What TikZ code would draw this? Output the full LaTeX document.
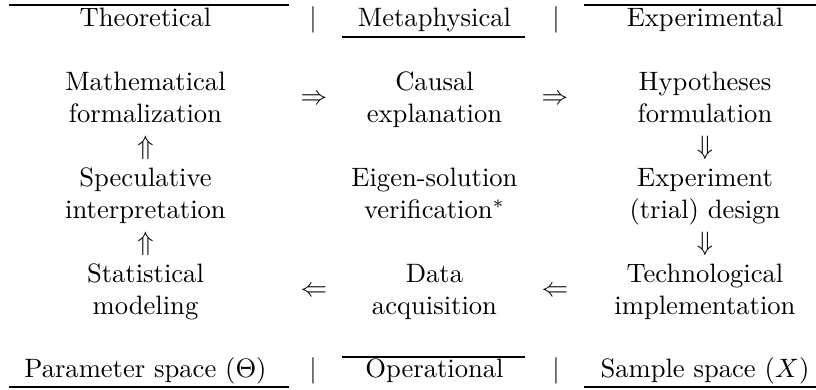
\documentclass[tikz,border=0pt]{standalone}
\newcommand\twolines[2]{\begin{tabular}[t]{@{}c@{}}#1\\#2\end{tabular}}
\begin{document}
\begin{tikzpicture}[x=0.376pt,y=-0.376pt,
  txt/.style={inner sep=0pt,anchor=base},
  arr/.style={inner sep=0pt,anchor=center},
  rulel/.style={line width=0.4pt}]
\useasboundingbox (0,0) rectangle (816,390);
% header
\node[txt] (hT) at (145.5,27) {Theoretical};
\node[txt] (b1) at (313,27) {$|$};
\node[txt] (hM) at (434.5,27) {Metaphysical};
\node[txt] (b2) at (556,27) {$|$};
\node[txt] (hE) at (705,27) {Experimental};
\draw[rulel] (9,5) -- (289,5);
\draw[rulel] (342,37) -- (525,37);
\draw[rulel] (584,5) -- (816,5);
% body
\node[txt] (math) at (145.5,90.8) {\twolines{Mathematical}{formalization}};
\node[arr] (r1) at (314,100.1) {$\Rightarrow$};
\node[txt] (caus) at (434.5,90.8) {\twolines{Causal}{explanation}};
\node[arr] (r2) at (555,100.1) {$\Rightarrow$};
\node[txt] (hyp) at (705,90.8) {\twolines{Hypotheses}{formulation}};
\node[txt] (u1) at (145.5,154.6) {$\Uparrow$};
\node[txt] (d1) at (705,154.6) {$\Downarrow$};
\node[txt] (spec) at (145.5,186.5) {\twolines{Speculative}{interpretation}};
\node[txt] (eig) at (434.5,186.5) {\twolines{Eigen-solution}{verification$^*$}};
\node[txt] (exp) at (705,186.5) {\twolines{Experiment}{(trial) design}};
\node[txt] (u2) at (145.5,250.3) {$\Uparrow$};
\node[txt] (d2) at (705,250.3) {$\Downarrow$};
\node[txt] (stat) at (145.5,282.2) {\twolines{Statistical}{modeling}};
\node[arr] (l1) at (314,291.5) {$\Leftarrow$};
\node[txt] (data) at (434.5,282.2) {\twolines{Data}{acquisition}};
\node[arr] (l2) at (555,291.5) {$\Leftarrow$};
\node[txt] (tech) at (705,282.2) {\twolines{Technological}{implementation}};
% footer
\node[txt] (fP) at (145.5,377.9) {Parameter space ($\Theta$)};
\node[txt] (b3) at (313,377.9) {$|$};
\node[txt] (fO) at (434.5,377.9) {Operational};
\node[txt] (b4) at (556,377.9) {$|$};
\node[txt] (fS) at (705,377.9) {Sample space ($X$)};
\draw[rulel] (9,387) -- (289,387);
\draw[rulel] (342,357) -- (525,357);
\draw[rulel] (584,387) -- (816,387);
\end{tikzpicture}
\end{document}
